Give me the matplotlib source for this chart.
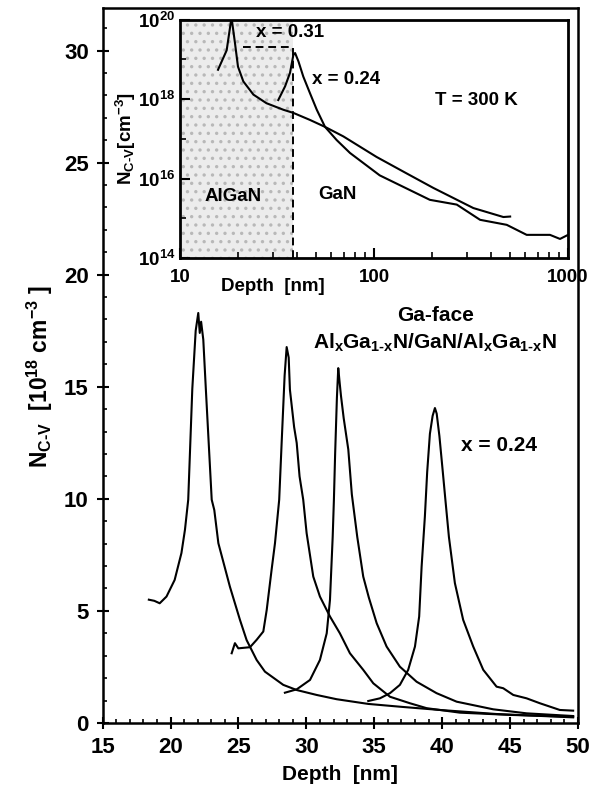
"""
C-V carrier profiles of Ga-face AlGaN/GaN/AlGaN heterostructures (x = 0.24),
with a log-log inset comparing x = 0.31 and x = 0.24 at T = 300 K.
"""
import matplotlib
matplotlib.use("Agg")
import matplotlib.pyplot as plt
from matplotlib.ticker import MultipleLocator, FixedLocator, NullFormatter

plt.rcParams['font.family'] = ['Liberation Sans', 'DejaVu Sans']
plt.rcParams['font.weight'] = 'bold'
plt.rcParams['mathtext.fontset'] = 'custom'
plt.rcParams['mathtext.rm'] = 'Liberation Sans:bold'
plt.rcParams['mathtext.it'] = 'Liberation Sans:bold'
plt.rcParams['mathtext.bf'] = 'Liberation Sans:bold'
plt.rcParams['hatch.linewidth'] = 1.2

# main panel: four profiles, depth [nm] vs N [1e18 cm^-3]
depth_1 = [18.4, 18.8, 19.2, 19.7, 20.3, 20.8, 21.06, 21.3, 21.6, 21.85, 22.04, 22.15, 22.25,
           22.41, 22.6, 23.03, 23.22, 23.52, 24.37, 25.11, 25.6, 26.34, 26.95, 28.3, 29.29,
           30.76, 32.23, 34.56, 37.0, 39.84, 44.0, 49.65]
n_1 = [5.5, 5.45, 5.34, 5.64, 6.38, 7.58, 8.62, 9.96, 14.9, 17.5, 18.29, 17.4, 17.9,
       17.1, 14.87, 9.96, 9.5, 8.02, 6.08, 4.6, 3.7, 2.81, 2.29, 1.7, 1.47,
       1.25, 1.06, 0.85, 0.72, 0.58, 0.4, 0.25]

depth_2 = [24.5, 24.74, 24.99, 25.85, 26.34, 26.83, 27.08, 27.44, 27.69, 28.0, 28.18, 28.4,
           28.55, 28.7, 28.79, 29.1, 29.29, 29.5, 29.77, 30.02, 30.51, 31.0, 31.74, 32.47,
           33.21, 34.19, 34.93, 36.16, 37.63, 38.86, 41.31, 45.0, 49.65]
n_2 = [3.11, 3.56, 3.33, 3.38, 3.71, 4.08, 5.04, 6.83, 8.02, 9.96, 12.49, 15.5,
       16.77, 16.3, 14.87, 13.2, 12.49, 11.0, 9.96, 8.47, 6.53, 5.64, 4.75, 4.0,
       3.11, 2.37, 1.77, 1.17, 0.88, 0.66, 0.46, 0.36, 0.28]

depth_3 = [28.42, 29.29, 30.27, 31.0, 31.5, 31.74, 31.94, 32.03, 32.12, 32.25, 32.35, 32.45,
           32.55, 32.75, 33.09, 33.35, 33.75, 34.19, 34.6, 35.18, 35.91, 36.89, 38.12, 39.59,
           41.07, 43.76, 46.22, 49.65]
n_3 = [1.35, 1.5, 1.92, 2.81, 4.0, 5.49, 8.3, 9.96, 12.0, 14.5, 15.83, 15.2,
       14.6, 13.6, 12.2, 10.2, 8.3, 6.53, 5.6, 4.45, 3.41, 2.51, 1.84, 1.33,
       0.95, 0.61, 0.43, 0.31]

depth_4 = [34.56, 35.42, 36.16, 36.89, 37.5, 38.0, 38.31, 38.49, 38.73, 38.9, 39.1, 39.3,
           39.47, 39.6, 39.8, 40.05, 40.25, 40.5, 40.94, 41.55, 42.29, 43.03, 44.01, 44.5,
           45.24, 46.22, 47.2, 48.67, 49.65]
n_4 = [0.98, 1.1, 1.33, 1.7, 2.37, 3.41, 4.75, 6.98, 9.21, 11.2, 12.9, 13.7,
       14.05, 13.8, 12.8, 11.2, 9.9, 8.3, 6.24, 4.6, 3.41, 2.37, 1.62, 1.55,
       1.25, 1.1, 0.88, 0.58, 0.55]

# inset: depth [nm] vs N [cm^-3], log-log
inset_depth_031 = [15.7, 17.4, 18.3, 18.5, 19.2, 19.9, 21.2, 23.9, 27.9, 34.1, 38.4,
                   46.7, 55.9, 69.5, 103, 147, 202, 325, 464, 503]
inset_n_031 = [5.5e18, 1.7e19, 9.1e19, 1.0e20, 2.6e19, 6.6e18, 2.8e18, 1.3e18, 7.9e17,
               5.4e17, 4.5e17, 3.0e17, 2.0e17, 1.15e17, 3.5e16, 1.35e16, 5.8e15,
               1.8e15, 1.07e15, 1.1e15]

inset_depth_024 = [32.1, 34.8, 36.9, 38.4, 39.2, 40.8, 43.2, 46.8, 50.7, 55.9, 64.2, 75.2,
                   107, 194, 267, 352, 483, 612, 807, 909, 1000]
inset_n_024 = [9.5e17, 2.1e18, 4.6e18, 1.3e19, 1.45e19, 8.9e18, 3.7e18, 1.4e18, 5.4e17,
               2.0e17, 9.3e16, 4.4e16, 1.2e16, 2.9e15, 2.2e15, 9.1e14, 6.8e14, 3.8e14,
               3.8e14, 3.0e14, 3.8e14]

algan_edge = 38.4          # AlGaN / GaN interface in the inset
x031_level = 2.1e19        # dashed marker for x = 0.31
x031_start = 21.1

LW = 1.5
fig = plt.figure(figsize=(5.97, 7.91), dpi=100)

# ============ main axes ============
ax = fig.add_axes([0.172, 0.086, 0.796, 0.904])
for xs, ys in [(depth_1, n_1), (depth_2, n_2), (depth_3, n_3), (depth_4, n_4)]:
    ax.plot(xs, ys, color='black', lw=LW)
ax.set_xlim(15, 50)
ax.set_ylim(0, 31.9)
ax.xaxis.set_major_locator(MultipleLocator(5))
ax.xaxis.set_minor_locator(MultipleLocator(1))
ax.yaxis.set_major_locator(MultipleLocator(5))
ax.yaxis.set_minor_locator(MultipleLocator(1))
ax.tick_params(which='major', direction='inout', length=8, width=1.5, labelsize=16, pad=6)
ax.tick_params(which='minor', direction='in', length=3, width=1.2)
for s in ax.spines.values():
    s.set_linewidth(1.8)
ax.set_xlabel('Depth  [nm]', fontsize=15, fontweight='bold', labelpad=5)
ax.set_ylabel(r'N$_{\mathrm{C\text{-}V}}$  [10$^{18}$ cm$^{-3}$ ]', fontsize=16.5,
              fontweight='bold', labelpad=12)
ax.yaxis.set_label_coords(-0.1, 0.485)

ax.text(39.5, 18.2, 'Ga-face', fontsize=15, fontweight='bold', ha='center', va='center')
ax.text(39.5, 16.95, r'Al$_\mathrm{x}$Ga$_\mathrm{1\text{-}x}$N/GaN/Al$_\mathrm{x}$Ga$_\mathrm{1\text{-}x}$N',
        fontsize=15, ha='center', va='center')
ax.text(44.2, 12.4, 'x = 0.24', fontsize=15, fontweight='bold', ha='center', va='center')

# ============ inset ============
ax_in = fig.add_axes([0.3015, 0.674, 0.65, 0.301])
ax_in.set_xscale('log')
ax_in.set_yscale('log')
ax_in.set_xlim(10, 1000)
ax_in.set_ylim(1e14, 1e20)
ax_in.axvspan(10, algan_edge, facecolor='#ececec', edgecolor='#b8b8b8', hatch='..', lw=0, zorder=0)
ax_in.plot(inset_depth_031, inset_n_031, color='black', lw=LW)
ax_in.plot(inset_depth_024, inset_n_024, color='black', lw=LW)
ax_in.plot([x031_start, algan_edge], [x031_level, x031_level], color='black', lw=1.4, ls=(0, (4, 2.5)))
ax_in.plot([algan_edge, algan_edge], [1e14, x031_level], color='black', lw=1.4, ls=(0, (4, 2.5)))

ax_in.yaxis.set_major_locator(FixedLocator([1e14, 1e16, 1e18, 1e20]))
ax_in.yaxis.set_minor_locator(FixedLocator([1e15, 1e17, 1e19]))
ax_in.yaxis.set_minor_formatter(NullFormatter())
ax_in.xaxis.set_minor_formatter(NullFormatter())
ax_in.set_xticks([10, 100, 1000])
ax_in.set_xticklabels(['10', '100', '1000'])
ax_in.tick_params(which='major', direction='in', length=7, width=1.5, labelsize=13.5)
ax_in.tick_params(which='minor', direction='in', length=4, width=1.2)
ax_in.tick_params(axis='x', pad=8)
for s in ax_in.spines.values():
    s.set_linewidth(2.0)
ax_in.set_xlabel('Depth  [nm]', fontsize=13.5, fontweight='bold', labelpad=2)
ax_in.xaxis.set_label_coords(0.24, -0.085)
ax_in.set_ylabel(r'N$_{\mathrm{C\text{-}V}}$[cm$^{-3}$]', fontsize=13.5, fontweight='bold', labelpad=0)

ax_in.text(36.9, 4.7e19, 'x = 0.31', fontsize=13.5, fontweight='bold', ha='center', va='center')
ax_in.text(72, 3.1e18, 'x = 0.24', fontsize=13.5, fontweight='bold', ha='center', va='center')
ax_in.text(336, 9.5e17, 'T = 300 K', fontsize=13.5, fontweight='bold', ha='center', va='center')
ax_in.text(18.8, 3.5e15, 'AlGaN', fontsize=13.5, fontweight='bold', ha='center', va='center')
ax_in.text(64.6, 3.9e15, 'GaN', fontsize=13.5, fontweight='bold', ha='center', va='center')

fig.savefig('out.png', dpi=100)
